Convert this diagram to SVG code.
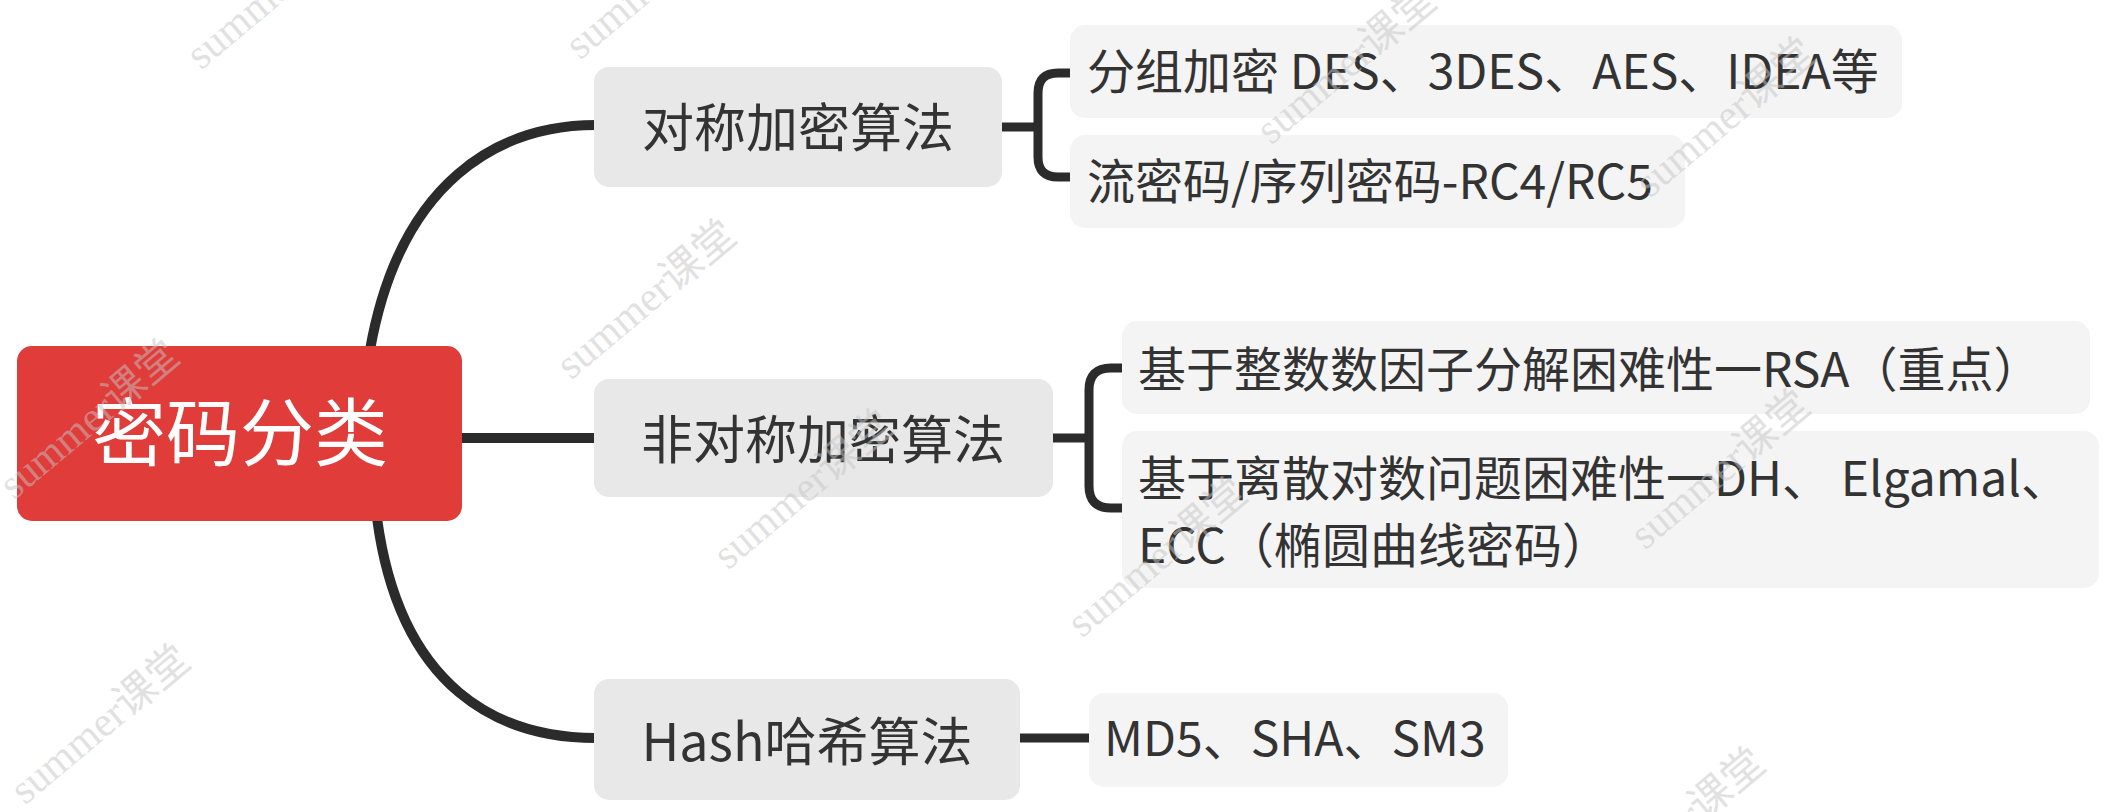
<svg xmlns="http://www.w3.org/2000/svg" width="2115" height="812" viewBox="0 0 2115 812">
<style>
.bg{fill:#ffffff}
.root{fill:#DF3C3A}
.l1{fill:#E8E8E8}
.l2{fill:#F4F4F4}
.t{font-family:"Noto Sans CJK SC","Noto Sans",sans-serif;fill:#333333}
.rt{font-family:"Noto Sans CJK SC","Noto Sans",sans-serif;fill:#ffffff;font-size:74px}
.t1{font-size:52px}
.t2{font-size:48px}
.main{fill:none;stroke:#2B2B2B;stroke-width:10;stroke-linecap:round}
.sub{fill:none;stroke:#2B2B2B;stroke-width:9}
.wm{font-family:"Liberation Serif","Noto Sans CJK SC",serif;font-size:42px;fill:#c4c4c4;fill-opacity:0.5}
</style>
<rect class="bg" x="0" y="0" width="2115" height="812"/>
<g id="connectors">
  <path class="main" d="M370 350 C400 180 500 125 596 125"/>
  <path class="main" d="M462 438 H596"/>
  <path class="main" d="M377 518 C400 690 500 738 596 738"/>
  <path class="sub" d="M1002 127 H1038"/>
  <path class="sub" d="M1072 73 H1058 Q1038 73 1038 93 V157 Q1038 177 1058 177 H1072"/>
  <path class="sub" d="M1053 438 H1089"/>
  <path class="sub" d="M1124 368 H1111 Q1089 368 1089 390 V486 Q1089 508 1111 508 H1124"/>
  <path class="sub" d="M1020 738 H1091"/>
</g>
<g id="root">
  <rect class="root" x="17" y="346" width="445" height="175" rx="15"/>
  <text class="rt" x="240" y="460" text-anchor="middle">密码分类</text>
</g>
<g id="n1">
  <rect class="l1" x="594" y="67" width="408" height="120" rx="15"/>
  <text class="t t1" x="798" y="147" text-anchor="middle">对称加密算法</text>
</g>
<g id="n2">
  <rect class="l1" x="594" y="379" width="459" height="118" rx="15"/>
  <text class="t t1" x="823" y="459" text-anchor="middle">非对称加密算法</text>
</g>
<g id="n3">
  <rect class="l1" x="594" y="679" width="426" height="121" rx="15"/>
  <text class="t t1" x="807" y="761" text-anchor="middle">Hash哈希算法</text>
</g>
<g id="n1a">
  <rect class="l2" x="1070" y="25" width="832" height="93" rx="15"/>
  <text class="t t2" x="1087" y="89">分组加密 DES、3DES、AES、IDEA等</text>
</g>
<g id="n1b">
  <rect class="l2" x="1070" y="135" width="615" height="93" rx="15"/>
  <text class="t t2" x="1087" y="199">流密码/序列密码-RC4/RC5</text>
</g>
<g id="n2a">
  <rect class="l2" x="1122" y="321" width="968" height="93" rx="15"/>
  <text class="t t2" x="1138" y="387">基于整数数因子分解困难性一RSA（重点）</text>
</g>
<g id="n2b">
  <rect class="l2" x="1122" y="431" width="977" height="157" rx="15"/>
  <text class="t t2" x="1138" y="496">基于离散对数问题困难性一DH、 Elgamal、</text>
  <text class="t t2" x="1138" y="563">ECC（椭圆曲线密码）</text>
</g>
<g id="n3a">
  <rect class="l2" x="1089" y="693" width="419" height="94" rx="15"/>
  <text class="t t2" x="1104" y="756">MD5、SHA、SM3</text>
</g>
<g id="watermarks">
  <text class="wm" x="285" y="0" text-anchor="middle" transform="rotate(-40 285 0)">summer课堂</text>
  <text class="wm" x="664" y="-10" text-anchor="middle" transform="rotate(-40 664 -10)">summer课堂</text>
  <text class="wm" x="655" y="310" text-anchor="middle" transform="rotate(-40 655 310)">summer课堂</text>
  <text class="wm" x="812" y="500" text-anchor="middle" transform="rotate(-40 812 500)">summer课堂</text>
  <text class="wm" x="1355" y="75" text-anchor="middle" transform="rotate(-40 1355 75)">summer课堂</text>
  <text class="wm" x="1734" y="128" text-anchor="middle" transform="rotate(-40 1734 128)">summer课堂</text>
  <text class="wm" x="98" y="430" text-anchor="middle" transform="rotate(-40 98 430)">summer课堂</text>
  <text class="wm" x="109" y="735" text-anchor="middle" transform="rotate(-40 109 735)">summer课堂</text>
  <text class="wm" x="1166" y="568" text-anchor="middle" transform="rotate(-40 1166 568)">summer课堂</text>
  <text class="wm" x="1729" y="480" text-anchor="middle" transform="rotate(-40 1729 480)">summer课堂</text>
  <text class="wm" x="1684" y="838" text-anchor="middle" transform="rotate(-40 1684 838)">summer课堂</text>
</g>
</svg>
